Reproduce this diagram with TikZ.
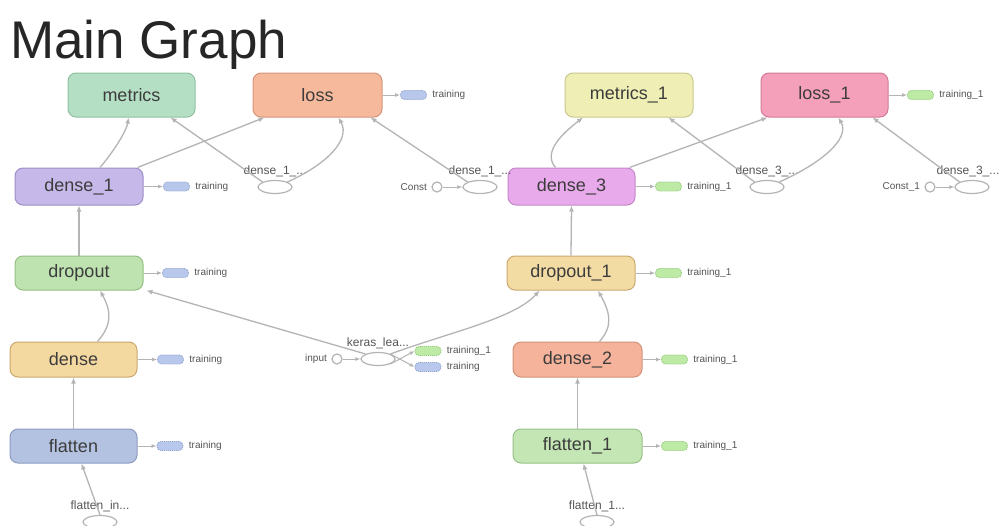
\documentclass[tikz,border=0pt]{standalone}
\usepackage{fontspec}
\setmainfont{Liberation Sans}
\usetikzlibrary{arrows.meta,calc,shapes.geometric}
\definecolor{edgec}{HTML}{B4B4B4}
\definecolor{textc}{HTML}{3C3C3C}
\definecolor{lblc}{HTML}{555555}
\definecolor{cMetrics}{HTML}{B5DFC5}\definecolor{bMetrics}{HTML}{90C0A0}
\definecolor{cLoss}{HTML}{F7B99B}\definecolor{bLoss}{HTML}{D4967A}
\definecolor{cDenseA}{HTML}{C6B8E8}\definecolor{bDenseA}{HTML}{9E8FC8}
\definecolor{cMetricsB}{HTML}{EFEFB5}\definecolor{bMetricsB}{HTML}{C9C98F}
\definecolor{cLossB}{HTML}{F5A0BB}\definecolor{bLossB}{HTML}{D47A98}
\definecolor{cDenseC}{HTML}{E8AAEA}\definecolor{bDenseC}{HTML}{C487C8}
\definecolor{cDrop}{HTML}{BFE3B0}\definecolor{bDrop}{HTML}{95C085}
\definecolor{cDropB}{HTML}{F3DCA4}\definecolor{bDropB}{HTML}{CAA970}
\definecolor{cDense}{HTML}{F3D8A0}\definecolor{bDense}{HTML}{C9A96E}
\definecolor{cDenseB}{HTML}{F6B39C}\definecolor{bDenseB}{HTML}{D4927A}
\definecolor{cFlat}{HTML}{B3C2E0}\definecolor{bFlat}{HTML}{8D9DC0}
\definecolor{cFlatB}{HTML}{C4E6B4}\definecolor{bFlatB}{HTML}{98C288}
\definecolor{pillBlue}{HTML}{B8C8EC}\definecolor{pillBlueB}{HTML}{93A6D0}
\definecolor{pillGreen}{HTML}{BDEBA5}\definecolor{pillGreenB}{HTML}{96CC7E}
\begin{document}
\begin{tikzpicture}[x=1pt,y=-1pt,
  opbox/.style 2 args={draw=#2, fill=#1, rounded corners=8pt, line width=1pt,
    minimum width=127pt, minimum height=35pt, inner sep=0pt, text=textc,
    font=\fontsize{18}{20}\selectfont},
  tallbox/.style={minimum height=44pt},
  pillb/.style={draw=pillBlueB, fill=pillBlue, rounded corners=4pt, line width=0.8pt,
    dash pattern=on 1.2pt off 0.8pt, minimum width=26pt, minimum height=9pt, inner sep=0pt,
    label={[text=lblc, font=\fontsize{10}{12}\selectfont, label distance=2pt]east:#1}},
  pillg/.style={draw=pillGreenB, fill=pillGreen, rounded corners=4pt, line width=0.8pt,
    dash pattern=on 1.2pt off 0.8pt, minimum width=26pt, minimum height=9pt, inner sep=0pt,
    label={[text=lblc, font=\fontsize{10}{12}\selectfont, label distance=2pt]east:#1}},
  opell/.style={ellipse, draw=edgec, fill=white, line width=1.2pt, minimum width=34pt,
    minimum height=13pt, inner sep=0pt,
    label={[text=lblc, font=\fontsize{12}{14}\selectfont, label distance=-1pt]north:#1}},
  constc/.style={circle, draw=edgec, fill=white, line width=1.2pt, minimum size=10pt, inner sep=0pt,
    label={[text=lblc, font=\fontsize{10}{12}\selectfont, label distance=1pt]west:#1}},
  edge/.style={draw=edgec, line width=1.3pt, -{Latex[length=6pt,width=5pt]}},
  smalledge/.style={edge, line width=1pt, -{Latex[length=5pt,width=4pt]}},
]
\useasboundingbox (0,0) rectangle (999,525);
\fill[white] (0,0) rectangle (999,525);
\node[anchor=base west, text=black!85, font=\fontsize{53}{58}\selectfont, inner sep=0pt] (title) at (10,58) {Main Graph};

% top row
\node[opbox={cMetrics}{bMetrics}, tallbox] (metrics) at (131.5,95) {metrics};
\node[opbox={cLoss}{bLoss}, tallbox, minimum width=129pt] (loss) at (317.5,95) {loss};
\node[opbox={cMetricsB}{bMetricsB}, tallbox, minimum width=128pt] (metricsB) at (629,95) {metrics\_1};
\node[opbox={cLossB}{bLossB}, tallbox] (lossB) at (824.5,95) {loss\_1};

% left column
\node[opbox={cDenseA}{bDenseA}, minimum width=128pt, minimum height=37pt] (denseA) at (79,186.5) {dense\_1};
\node[opbox={cDrop}{bDrop}, minimum width=128pt, minimum height=34pt] (drop) at (79,273) {dropout};
\node[opbox={cDense}{bDense}] (dense) at (73.5,359.5) {dense};
\node[opbox={cFlat}{bFlat}, minimum height=34pt] (flat) at (73.5,446) {flatten};

% right column
\node[opbox={cDenseC}{bDenseC}, minimum height=37pt] (denseC) at (571.5,186.5) {dense\_3};
\node[opbox={cDropB}{bDropB}, minimum width=128pt, minimum height=34pt] (dropB) at (571,273) {dropout\_1};
\node[opbox={cDenseB}{bDenseB}, minimum width=129pt] (denseB) at (577.5,359.5) {dense\_2};
\node[opbox={cFlatB}{bFlatB}, minimum width=129pt, minimum height=34pt] (flatB) at (577.5,446) {flatten\_1};

% pills
\node[pillb=training] (pLoss) at (413.5,95) {};
\node[pillb=training] (pDenseA) at (176.5,186.5) {};
\node[pillb=training] (pDrop) at (175.5,273) {};
\node[pillb=training] (pDense) at (170.5,359.5) {};
\node[pillb=training] (pFlat) at (170,446) {};
\node[pillg=training\_1] (pLossB) at (920.5,95) {};
\node[pillg=training\_1] (pDenseC) at (668.5,186.5) {};
\node[pillg=training\_1] (pDropB) at (668.5,273) {};
\node[pillg=training\_1] (pDenseB) at (674.5,359.5) {};
\node[pillg=training\_1] (pFlatB) at (674.5,446) {};
\node[pillg=training\_1] (pK1) at (428,351) {};
\node[pillb=training] (pK2) at (428,367) {};

% ellipses and constants
\node[opell={dense\_1\_...}] (dA) at (275,187) {};
\node[opell={dense\_1\_...}] (dB) at (480,187) {};
\node[constc=Const] (cst) at (437,187) {};
\node[opell={dense\_3\_...}] (dC) at (767,187) {};
\node[ellipse, draw=edgec, fill=white, line width=1.2pt, minimum width=34pt,
    minimum height=13pt, inner sep=0pt,
    label={[text=lblc, font=\fontsize{12}{14}\selectfont, label distance=-1pt, xshift=-4pt]north:dense\_3\_...}] (dD) at (972,187) {};
\node[constc=Const\_1] (cstB) at (930,187) {};
\node[opell={keras\_lea...}] (keras) at (378,359) {};
\node[constc=input] (inp) at (337,359) {};
\node[opell={flatten\_in...}] (fin) at (100,522) {};
\node[opell={flatten\_1...}] (finB) at (597,522) {};

% pill edges
\foreach \a/\b in {loss/pLoss, denseA/pDenseA, drop/pDrop, dense/pDense, flat/pFlat,
  lossB/pLossB, denseC/pDenseC, dropB/pDropB, denseB/pDenseB, flatB/pFlatB}
  \draw[smalledge] (\a.east) -- (\b.west);

% left chain
\draw[edge] (fin.north) -- ($(flat.south)+(8,0)$);
\draw[edge] (flat.north) -- (dense.south);
\draw[edge] ($(dense.north)+(24,0)$) .. controls +(14,-16) and +(12,22) .. ($(drop.south)+(21,0)$);
\draw[edge] (drop.north) -- (denseA.south);
\draw[edge] ($(denseA.north)+(21,0)$) .. controls +(12,-14) and +(-2,14) .. ($(metrics.south)+(-3,0)$);
\draw[edge] ($(denseA.north east)+(-6,0)$) -- ($(loss.south west)+(12,0)$);
\draw[edge] (dA.north west) -- ($(metrics.south east)+(-25,0)$);
\draw[edge] (dA.north east) .. controls +(40,-18) and +(12,22) .. ($(loss.south)+(21,0)$);
\draw[edge] (dB.north west) -- ($(loss.south east)+(-12,0)$);
\draw[smalledge] (cst.east) -- (dB.west);

% right chain
\draw[edge] (finB.north) -- ($(flatB.south)+(6,0)$);
\draw[edge] (flatB.north) -- (denseB.south);
\draw[edge] ($(denseB.north)+(22,0)$) .. controls +(14,-16) and +(12,22) .. ($(dropB.south)+(27,0)$);
\draw[edge] (dropB.north) -- (denseC.south);
\draw[edge] ($(denseC.north)+(-16,0)$) .. controls +(-14,-16) and +(-18,14) .. ($(metricsB.south)+(-46,0)$);
\draw[edge] ($(denseC.north east)+(-6,0)$) -- ($(lossB.south west)+(7,0)$);
\draw[edge] (dC.north west) -- ($(metricsB.south east)+(-25,0)$);
\draw[edge] (dC.north east) .. controls +(40,-18) and +(12,22) .. ($(lossB.south)+(14,0)$);
\draw[edge] (dD.north west) -- ($(lossB.south east)+(-16,0)$);
\draw[smalledge] (cstB.east) -- (dD.west);

% keras
\draw[smalledge] (inp.east) -- (keras.west);
\draw[edge] (keras.north west) -- ($(drop.south east)+(3,0)$);
\draw[edge] (keras.north east) .. controls +(60,-22) and +(-25,28) .. ($(dropB.south west)+(33,0)$);
\draw[smalledge] (keras.south east) -- (pK1.west);
\draw[smalledge] (keras.north east) -- (pK2.west);
\end{tikzpicture}
\end{document}
